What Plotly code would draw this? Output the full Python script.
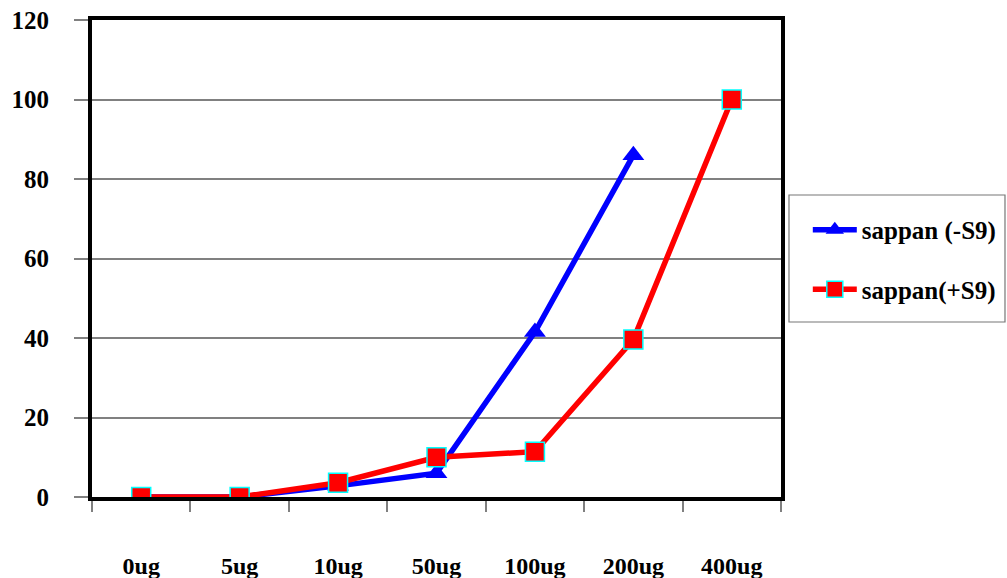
import plotly.graph_objects as go

categories = ["0ug", "5ug", "10ug", "50ug", "100ug", "200ug", "400ug"]
minus_s9 = [0, 0, 2.8, 6, 41.5, 86, None]
plus_s9 = [0, 0, 3.6, 10, 11.4, 39.6, 100]
y_ticks = [0, 20, 40, 60, 80, 100, 120]

FONT = "Liberation Serif"

fig = go.Figure()
fig.add_trace(go.Scatter(
    x=categories, y=minus_s9, name="sappan (-S9)", mode="lines+markers",
    line=dict(color="#0000FF", width=5.5),
    marker=dict(symbol="triangle-up", size=19, color="#0000FF"),
    legendgroup="a",
))
fig.add_trace(go.Scatter(
    x=categories, y=plus_s9, name="sappan(+S9)", mode="lines+markers",
    line=dict(color="#FF0000", width=5.5),
    marker=dict(symbol="square", size=19, color="#FF0000",
                line=dict(color="#00FFFF", width=1.5)),
    legendgroup="b",
))

# legend frame box
fig.add_shape(type="rect", xref="paper", yref="paper",
              x0=1.0116, x1=1.3251, y0=0.3669, y1=0.6331,
              line=dict(color="#777777", width=1.2), fillcolor="rgba(0,0,0,0)")

fig.update_layout(
    width=1007, height=578,
    margin=dict(l=92, r=226, t=20, b=81, autoexpand=False),
    plot_bgcolor="white", paper_bgcolor="white",
    font=dict(family=FONT, size=23, color="black", weight="bold"),
    legend=dict(
        x=1.0389, y=0.608, xanchor="left", yanchor="top",
        bgcolor="rgba(0,0,0,0)", borderwidth=0, itemwidth=44,
        font=dict(family=FONT, size=25, color="black", weight="bold"),
        tracegroupgap=24, traceorder="grouped",
    ),
    showlegend=True,
)
fig.update_xaxes(
    type="category", range=[-0.5, 6.5], automargin=False,
    showline=True, linecolor="black", linewidth=4, mirror=True,
    ticks="outside", tickson="boundaries", ticklen=11, tickcolor="#808080", tickwidth=1.5,
    showgrid=False, ticklabelstandoff=44,
    tickfont=dict(family=FONT, size=24, weight="bold"),
)
fig.update_yaxes(
    range=[0, 120], tickvals=y_ticks, automargin=False,
    showline=True, linecolor="black", linewidth=4, mirror=True,
    ticks="outside", ticklen=14, tickcolor="#808080", tickwidth=1.5,
    showgrid=True, gridcolor="#808080", gridwidth=1.5,
    zeroline=False, ticklabelstandoff=20,
    tickfont=dict(family=FONT, size=25, weight="bold"),
)

fig.write_html("out.html")
